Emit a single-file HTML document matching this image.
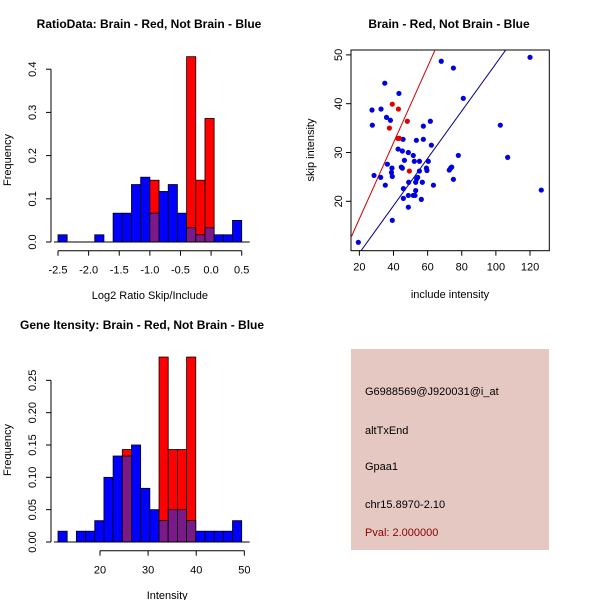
<!DOCTYPE html>
<html><head><meta charset="utf-8"><style>
body{margin:0;background:#fff;}
svg{display:block;font-family:"Liberation Sans",sans-serif;}
</style></head><body>
<svg id="s" width="600" height="600" xmlns="http://www.w3.org/2000/svg"></svg>
<script>
// Histogram 1 data (Log2 ratio), 20 bins from -2.5 to 0.5
const ratioBlue=[0.0167,0,0,0,0.0167,0,0.0667,0.0667,0.133,0.15,0.0667,0.117,0.133,0.0667,0.033,0.0167,0.033,0.0167,0.0167,0.05];
const ratioRed=[0,0,0,0,0,0,0,0,0,0,0.143,0,0,0,0.429,0.143,0.286,0,0,0];
const ratioXTicks=[-2.5,-2.0,-1.5,-1.0,-0.5,0.0,0.5];
const ratioYTicks=[0.0,0.1,0.2,0.3,0.4];
// Histogram 2 data (Intensity), 20 bins from 11.27 to 49.45
const intBlue=[0.0167,0,0.0167,0.0167,0.033,0.1,0.133,0.133,0.15,0.083,0.05,0.033,0.05,0.05,0.033,0.0167,0.0167,0.0167,0.0167,0.033];
const intRed=[0,0,0,0,0,0,0,0.143,0,0,0,0.286,0.143,0.143,0.286,0,0,0,0,0];
const intXTicks=[20,30,40,50];
const intYTicks=[0.00,0.05,0.10,0.15,0.20,0.25];
// Scatter data
const blueX=[19.4,27.4,27.6,28.6,32.7,32.5,34.9,35.9,36.4,35.2,38.2,39.1,38.8,39.3,39.3,43.2,42.7,45.6,45.2,44.6,45.2,46.4,45.8,45.8,48.7,48.9,48.7,48.7,51.6,52.2,53.4,53.0,53.6,54.2,53.0,51.6,52.6,55.2,55.2,56.3,56.9,57.5,57.5,59.3,59.6,60.4,61.6,62.2,63.4,68.0,75.1,80.9,78.0,72.7,73.5,74.1,75.1,102.6,106.9,120.0,126.6];
const blueY=[11.6,38.7,35.6,25.3,38.9,24.9,44.2,37.2,27.6,23.3,36.6,26.8,25.9,25.1,16.1,42.1,30.7,32.7,30.3,27.0,26.8,28.4,22.6,20.6,30.0,23.9,21.2,18.8,29.4,28.2,32.5,23.9,24.6,24.9,22.2,21.2,21.2,28.2,26.2,20.4,23.9,35.4,32.7,26.8,26.3,28.2,36.4,31.5,23.3,48.7,47.3,41.1,29.4,26.4,26.8,27.0,24.5,35.6,29.0,49.5,22.3];
const redX=[39.3,42.9,37.6,48.1,42.5,43.4,49.3];
const redY=[39.9,38.9,35.0,36.4,32.9,32.9,26.2];
const lineSlopes=[0.78,0.485];
const lineIntercepts=[0.8,-0.3];
const scXTicks=[20,40,60,80,100,120];
const scYTicks=[20,30,40,50];

const S=document.getElementById('s');
const NS='http://www.w3.org/2000/svg';
function mk(t,a,txt){const e=document.createElementNS(NS,t);for(const k in a)e.setAttribute(k,a[k]);if(txt!==undefined)e.textContent=txt;S.appendChild(e);return e;}

function hist(blue,red,x0,x1,px0,px1,py0,pyScale,xt,yt,yDec,xLab,title,titleX,titleAnchor,titleY,pref){
  const n=blue.length,w=(px1-px0)/n;
  const Y=v=>py0-v*pyScale;
  const X=v=>px0+(v-x0)/(x1-x0)*(px1-px0);
  for(let i=0;i<n;i++){
    const bx=px0+i*w;
    if(red[i]>0){let e=mk('rect',{x:bx,y:Y(red[i]),width:w,height:red[i]*pyScale,fill:'#ff0000',stroke:'#000','stroke-width':0.8});
      }
    if(blue[i]>0){const ov=red[i]>0;let e=mk('rect',{x:bx,y:Y(blue[i]),width:w,height:blue[i]*pyScale,fill:ov?'#7a1a88':'#0000ff',stroke:'#000','stroke-width':0.8});
      }
  }
  let b=mk('line',{x1:px0-4,x2:px1+8,y1:py0,y2:py0,stroke:'#000'});
  
  const ax=px0-7;
  let ya=mk('line',{x1:ax,x2:ax,y1:Y(yt[0]),y2:Y(yt[yt.length-1]),stroke:'#000'});
  
  yt.forEach(v=>{mk('line',{x1:ax-5,x2:ax,y1:Y(v),y2:Y(v),stroke:'#000'});
    let t=mk('text',{x:0,y:0,'font-size':11,'text-anchor':'middle',transform:`translate(${ax-15},${Y(v)}) rotate(-90)`},v.toFixed(yDec));
    });
  const ay=py0+8.7;
  let xa=mk('line',{x1:X(xt[0]),x2:X(xt[xt.length-1]),y1:ay,y2:ay,stroke:'#000'});
  
  xt.forEach(v=>{mk('line',{x1:X(v),x2:X(v),y1:ay,y2:ay+5,stroke:'#000'});
    let t=mk('text',{x:X(v),y:ay+23,'font-size':11,'text-anchor':'middle'},xt.every(Number.isInteger)?String(v):v.toFixed(1));
    });
  let xl=mk('text',{x:(X(xt[0])+X(xt[xt.length-1]))/2+(pref==='int'?-5:0),y:py0+57,'font-size':11,'text-anchor':'middle'},xLab);
  
  let yl=mk('text',{x:0,y:0,'font-size':11,'text-anchor':'middle',transform:`translate(11,${pref==='int'?450:160}) rotate(-90)`},'Frequency');
  
  let tt=mk('text',{x:titleX,y:titleY,'font-size':12,'font-weight':'bold','text-anchor':titleAnchor},title);
  
}
hist(ratioBlue,ratioRed,-2.5,0.5,58,241.7,242,432,ratioXTicks,ratioYTicks,1,'Log2 Ratio Skip/Include','RatioData: Brain - Red, Not Brain - Blue',149,'middle',28,'ratio');
hist(intBlue,intRed,11.27,49.45,58,241.7,542,646.7,intXTicks,intYTicks,2,'Intensity','Gene Itensity: Brain - Red, Not Brain - Blue',20,'start',329,'int');

// scatter
const sx0=15.1,sx1=131.3,sy0=9.88,sy1=51.0,bx0=351,bx1=549.3,by0=250.7,by1=50;
const SX=v=>bx0+(v-sx0)/(sx1-sx0)*(bx1-bx0);
const SY=v=>by0-(v-sy0)/(sy1-sy0)*(by0-by1);
let box=mk('rect',{x:bx0,y:by1,width:bx1-bx0,height:by0-by1,fill:'none',stroke:'#000'});

const clip=mk('clipPath',{id:'cp'});const cr=document.createElementNS(NS,'rect');
cr.setAttribute('x',bx0);cr.setAttribute('y',by1);cr.setAttribute('width',bx1-bx0);cr.setAttribute('height',by0-by1);clip.appendChild(cr);
const lc=['#cc0000','#00008b'];
lineSlopes.forEach((m,i)=>{let l=mk('line',{x1:SX(sx0),y1:SY(m*sx0+lineIntercepts[i]),x2:SX(sx1),y2:SY(m*sx1+lineIntercepts[i]),stroke:lc[i],'clip-path':'url(#cp)'});
  });
blueX.forEach((v,i)=>{let c=mk('circle',{cx:SX(v),cy:SY(blueY[i]),r:2.6,fill:'#0000e0'});
  });
redX.forEach((v,i)=>{let c=mk('circle',{cx:SX(v),cy:SY(redY[i]),r:2.6,fill:'#e00000'});
  });
scXTicks.forEach(v=>{mk('line',{x1:SX(v),x2:SX(v),y1:by0,y2:by0+5,stroke:'#000'});
  let t=mk('text',{x:SX(v),y:by0+20,'font-size':11,'text-anchor':'middle'},String(v));
  });
scYTicks.forEach(v=>{mk('line',{x1:bx0-5,x2:bx0,y1:SY(v),y2:SY(v),stroke:'#000'});
  let t=mk('text',{x:0,y:0,'font-size':11,'text-anchor':'middle',transform:`translate(${bx0-9},${SY(v)}) rotate(-90)`},String(v));
  });
let sxl=mk('text',{x:450,y:298,'font-size':11,'text-anchor':'middle'},'include intensity');

let syl=mk('text',{x:0,y:0,'font-size':11,'text-anchor':'middle',transform:'translate(314,150) rotate(-90)'},'skip intensity');

let st=mk('text',{x:449,y:28,'font-size':12,'font-weight':'bold','text-anchor':'middle'},'Brain - Red, Not Brain - Blue');


// info panel
let p=mk('rect',{x:351,y:349,width:198,height:201,fill:'#e6c8c2'});

const info=[['G6988569@J920031@i_at',395,'#000','probe-id'],['altTxEnd',434,'#000','event-type'],['Gpaa1',470,'#000','gene-name'],['chr15.8970-2.10',508,'#000','location'],['Pval: 2.000000',536,'#8b0000','p-value']];
info.forEach(r=>{let t=mk('text',{x:365,y:r[1],'font-size':11,fill:r[2]},r[0]);
  });
</script>
</body></html>
